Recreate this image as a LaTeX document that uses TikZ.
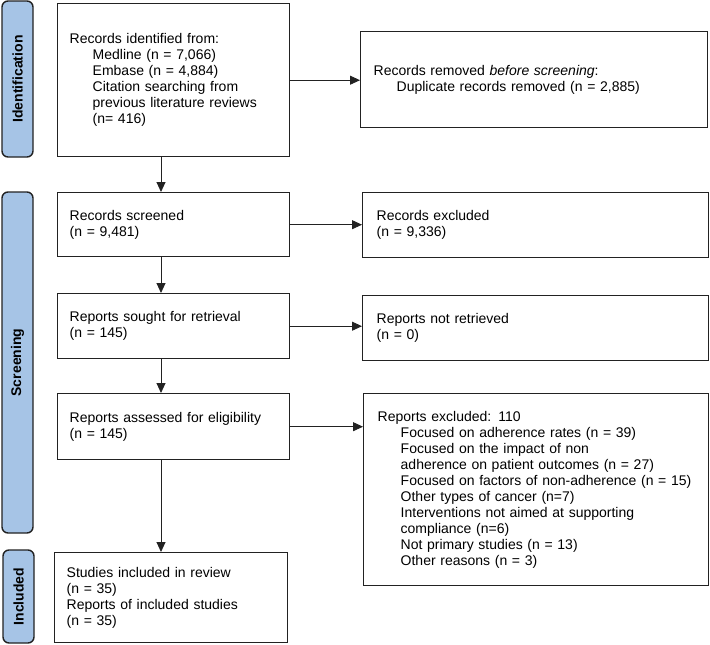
\documentclass[tikz,border=0pt]{standalone}
\usepackage{fontspec}
\setmainfont{Liberation Sans}
\usetikzlibrary{arrows.meta,calc}
\definecolor{barblue}{HTML}{A6C4E6}
\definecolor{edge}{HTML}{222222}
\tikzset{
  box/.style={draw=edge, line width=1.4pt, anchor=north west, align=left,
    inner xsep=12pt, inner ysep=0pt, font=\fontsize{14}{16}\selectfont},
  bar/.style={draw=edge, line width=1.4pt, fill=barblue, rounded corners=6pt},
  barlabel/.style={rotate=90, font=\fontsize{14}{16}\selectfont\bfseries},
  arr/.style={draw=edge, line width=0.9pt, -{Triangle[length=10pt,width=9pt]}}
}
\newcommand{\ind}{\hspace*{23pt}}
\begin{document}
\begin{tikzpicture}[x=1pt,y=-1pt]
\useasboundingbox (0,0) rectangle (710,645);
% side bars
\draw[bar] (2,1) rectangle (33,157);
\node[barlabel] (lid) at (17.5,79) {Identification};
\draw[bar] (2,192) rectangle (33,533);
\node[barlabel] (lsc) at (17.5,362.5) {Screening};
\draw[bar] (3,550) rectangle (34,643);
\node[barlabel] (lin) at (18.5,596.5) {Included};
% left column
\node[box, text width=208pt, minimum height=153pt] (b1) at (57,3) {Records identified from:\\
\ind Medline (n = 7,066)\\
\ind Embase (n = 4,884)\\
\ind Citation searching from\\
\ind previous literature reviews\\
\ind (n= 416)};
\node[box, text width=208pt, minimum height=64pt] (b2) at (57,192) {Records screened\\(n = 9,481)};
\node[box, text width=208pt, minimum height=65pt] (b3) at (57,293) {Reports sought for retrieval\\(n = 145)};
\node[box, text width=208pt, minimum height=66pt] (b4) at (57,393) {Reports assessed for eligibility\\(n = 145)};
\node[box, text width=209pt, minimum height=90pt] (b5) at (54,552) {Studies included in review\\(n = 35)\\Reports of included studies\\(n = 35)};
% right column
\node[box, inner xsep=13pt, text width=321pt, minimum height=96pt] (r1) at (360,31) {Records removed \textit{before screening}:\\
\ind Duplicate records removed (n = 2,885)};
\node[box, inner xsep=14pt, text width=318pt, minimum height=65pt] (r2) at (362,192) {Records excluded\\(n = 9,336)};
\node[box, inner xsep=14pt, text width=318pt, minimum height=65pt] (r3) at (362,295) {Reports not retrieved\\(n = 0)};
\node[box, inner xsep=14pt, text width=317pt, minimum height=192pt] (r4) at (363,393) {Reports excluded: 110\\
\ind Focused on adherence rates (n = 39)\\
\ind Focused on the impact of non\\
\ind adherence on patient outcomes (n = 27)\\
\ind Focused on factors of non-adherence (n = 15)\\
\ind Other types of cancer (n=7)\\
\ind Interventions not aimed at supporting\\
\ind compliance (n=6)\\
\ind Not primary studies (n = 13)\\
\ind Other reasons (n = 3)};
% arrows
\coordinate (ax) at (161,0);
\draw[arr] (b1.south -| ax) -- (b2.north -| ax);
\draw[arr] (b2.south -| ax) -- (b3.north -| ax);
\draw[arr] (b3.south -| ax) -- (b4.north -| ax);
\draw[arr] (b4.south -| ax) -- (b5.north -| ax);
\draw[arr] (b1.east) -- (r1.west |- b1.east);
\draw[arr] (b2.east) -- (r2.west |- b2.east);
\draw[arr] (b3.east) -- (r3.west |- b3.east);
\draw[arr] (b4.east) -- (r4.west |- b4.east);
\end{tikzpicture}
\end{document}
